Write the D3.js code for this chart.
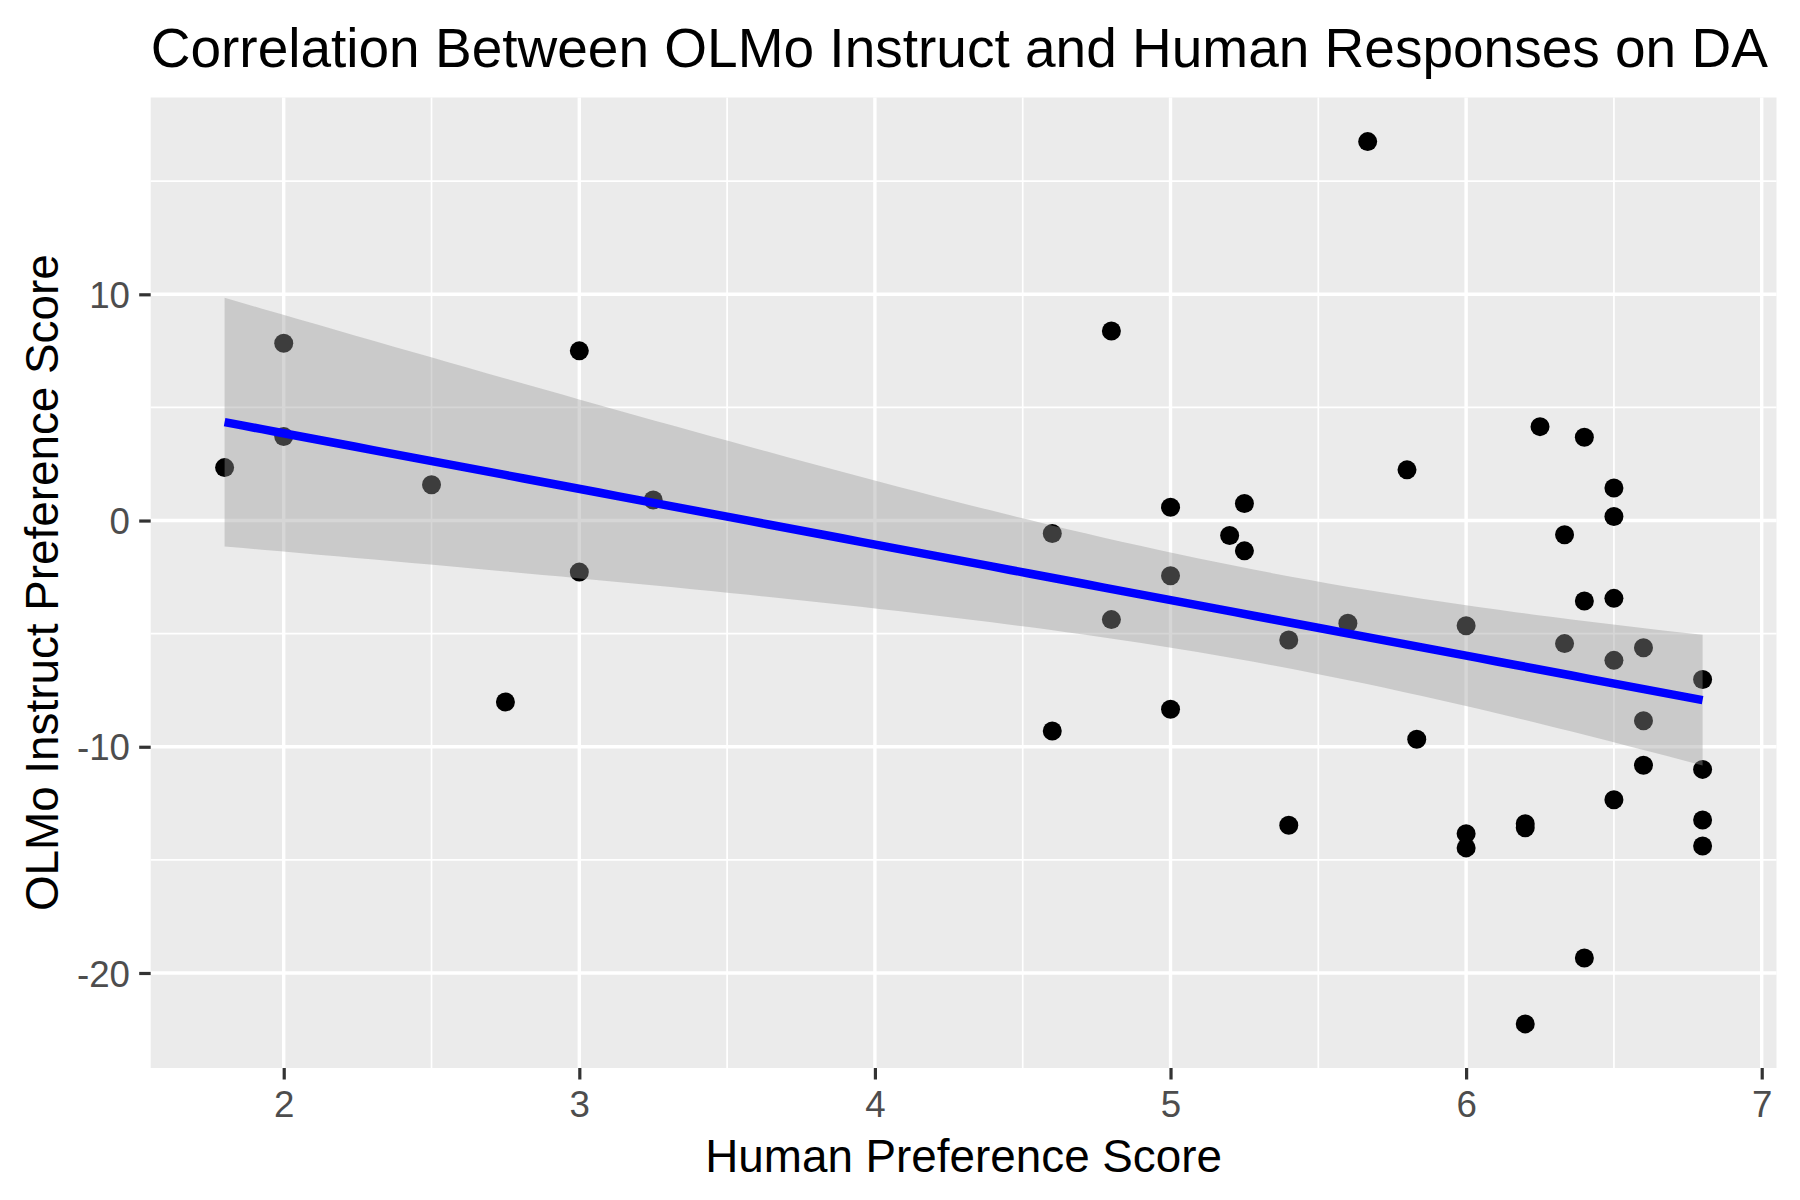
<!DOCTYPE html>
<html>
<head>
<meta charset="utf-8">
<script src="https://cdn.jsdelivr.net/npm/d3@7"></script>
<style>
  html, body { margin: 0; padding: 0; background: #ffffff; }
  svg { display: block; font-family: "Liberation Sans", Arial, Helvetica, sans-serif; }
</style>
</head>
<body>
<svg id="chart" width="1800" height="1200"></svg>
<script>
// ---- Data ----
const humanScore = [1.8, 2.0, 2.0, 2.5, 2.75, 3.0, 3.0, 3.25, 4.6, 4.6, 4.8, 4.8,
  5.0, 5.0, 5.0, 5.2, 5.25, 5.25, 5.4, 5.4, 5.6, 5.667, 5.8, 5.833,
  6.0, 6.0, 6.0, 6.2, 6.2, 6.2, 6.25, 6.333, 6.333, 6.4, 6.4, 6.4,
  6.5, 6.5, 6.5, 6.5, 6.5, 6.6, 6.6, 6.6, 6.8, 6.8, 6.8, 6.8];
const olmoScore = [2.34, 7.84, 3.71, 1.58, -8.02, 7.50, -2.28, 0.91, -0.57, -9.30, 8.38, -4.38,
  0.59, -2.44, -8.34, -0.66, 0.75, -1.34, -5.28, -13.47, -4.54, 16.75, 2.24, -9.67,
  -4.65, -13.84, -14.47, -13.40, -13.58, -22.25, 4.15, -0.63, -5.44, 3.68, -3.56, -19.34,
  1.44, 0.18, -3.44, -6.18, -12.34, -5.62, -8.85, -10.82, -7.03, -11.0, -13.24, -14.39];

const xMajorTicks = [2, 3, 4, 5, 6, 7];
const xMinorTicks = [2.5, 3.5, 4.5, 5.5, 6.5];
const yMajorTicks = [-20, -10, 0, 10];
const yMinorTicks = [-15, -5, 5, 15];

const titleText = "Correlation Between OLMo Instruct and Human Responses on DA";
const xTitle = "Human Preference Score";
const yTitle = "OLMo Instruct Preference Score";

// ---- Layout ----
const W = 1800, H = 1200;
const panel = { left: 150.7, right: 1776.5, top: 97.5, bottom: 1068 };

const data = humanScore.map((x, i) => ({ x, y: olmoScore[i] }));

// ---- Linear model (like geom_smooth(method = "lm")) ----
const n = data.length;
const xbar = d3.mean(data, d => d.x), ybar = d3.mean(data, d => d.y);
const Sxx = d3.sum(data, d => (d.x - xbar) ** 2);
const Sxy = d3.sum(data, d => (d.x - xbar) * (d.y - ybar));
const slope = Sxy / Sxx, intercept = ybar - slope * xbar;
const sse = d3.sum(data, d => (d.y - intercept - slope * d.x) ** 2);
const sErr = Math.sqrt(sse / (n - 2));
const tCrit = 2.0129; // qt(0.975, 46)
const [xMin, xMax] = d3.extent(data, d => d.x);
const fit = d3.range(80).map(i => {
  const x = xMin + (xMax - xMin) * i / 79;
  const yhat = intercept + slope * x;
  const se = sErr * Math.sqrt(1 / n + (x - xbar) ** 2 / Sxx);
  return { x, y: yhat, lo: yhat - tCrit * se, hi: yhat + tCrit * se };
});

// ---- Scales with ggplot-like 5% expansion ----
function expand(ext) { const r = ext[1] - ext[0]; return [ext[0] - 0.05 * r, ext[1] + 0.05 * r]; }
const yExt = d3.extent(data.map(d => d.y).concat(fit.map(f => f.lo), fit.map(f => f.hi)));
const x = d3.scaleLinear().domain(expand([xMin, xMax])).range([panel.left, panel.right]);
const y = d3.scaleLinear().domain(expand(yExt)).range([panel.bottom, panel.top]);

const svg = d3.select("#chart");
svg.append("rect").attr("width", W).attr("height", H).attr("fill", "#ffffff");

// panel background
svg.append("rect")
  .attr("x", panel.left).attr("y", panel.top)
  .attr("width", panel.right - panel.left).attr("height", panel.bottom - panel.top)
  .attr("fill", "#EBEBEB");

const grid = svg.append("g");
// minor grid
grid.selectAll(".vminor").data(xMinorTicks).join("line")
  .attr("x1", d => x(d)).attr("x2", d => x(d))
  .attr("y1", panel.top).attr("y2", panel.bottom)
  .attr("stroke", "#ffffff").attr("stroke-width", 1.7);
grid.selectAll(".hminor").data(yMinorTicks).join("line")
  .attr("y1", d => y(d)).attr("y2", d => y(d))
  .attr("x1", panel.left).attr("x2", panel.right)
  .attr("stroke", "#ffffff").attr("stroke-width", 1.7);
// major grid
grid.selectAll(".vmajor").data(xMajorTicks).join("line")
  .attr("x1", d => x(d)).attr("x2", d => x(d))
  .attr("y1", panel.top).attr("y2", panel.bottom)
  .attr("stroke", "#ffffff").attr("stroke-width", 3.4);
grid.selectAll(".hmajor").data(yMajorTicks).join("line")
  .attr("y1", d => y(d)).attr("y2", d => y(d))
  .attr("x1", panel.left).attr("x2", panel.right)
  .attr("stroke", "#ffffff").attr("stroke-width", 3.4);

// points
svg.append("g").selectAll("circle").data(data).join("circle")
  .attr("cx", d => x(d.x)).attr("cy", d => y(d.y)).attr("r", 9.5)
  .attr("fill", "#000000");

// confidence ribbon (drawn over the points, as in ggplot layer order)
const area = d3.area().x(d => x(d.x)).y0(d => y(d.lo)).y1(d => y(d.hi));
svg.append("path").datum(fit).attr("d", area)
  .attr("fill", "#999999").attr("fill-opacity", 0.4);

// regression line
const line = d3.line().x(d => x(d.x)).y(d => y(d.y));
svg.append("path").datum(fit).attr("d", line)
  .attr("fill", "none").attr("stroke", "#0000FF").attr("stroke-width", 8.5);

// axes
const tickLen = 11.5;
const xAxis = d3.axisBottom(x).tickValues(xMajorTicks).tickSize(tickLen).tickPadding(9.2).tickFormat(d3.format("d"));
const yAxis = d3.axisLeft(y).tickValues(yMajorTicks).tickSize(tickLen).tickPadding(9.2).tickFormat(d => d3.format("d")(d).replace("\u2212", "-"));

const gx = svg.append("g").attr("transform", `translate(0,${panel.bottom})`).call(xAxis);
const gy = svg.append("g").attr("transform", `translate(${panel.left},0)`).call(yAxis);
[gx, gy].forEach(g => {
  g.select(".domain").remove();
  g.selectAll(".tick line").attr("stroke", "#333333").attr("stroke-width", 3.2);
  g.selectAll(".tick text").attr("fill", "#4D4D4D").attr("font-size", 36.7)
    .attr("font-family", '"Liberation Sans", Arial, sans-serif');
});
gx.selectAll(".tick text").attr("dy", "0.76em");
gy.selectAll(".tick text").attr("dy", "0.36em");

// axis titles
svg.append("text")
  .attr("x", (panel.left + panel.right) / 2).attr("y", 1172)
  .attr("text-anchor", "middle").attr("font-size", 45.8).attr("fill", "#000000")
  .text(xTitle);
svg.append("text")
  .attr("transform", `translate(58,${(panel.top + panel.bottom) / 2}) rotate(-90)`)
  .attr("text-anchor", "middle").attr("font-size", 45.8).attr("fill", "#000000")
  .text(yTitle);

// title
svg.append("text")
  .attr("x", panel.left).attr("y", 67)
  .attr("text-anchor", "start").attr("font-size", 55).attr("fill", "#000000")
  .text(titleText);
</script>
</body>
</html>
